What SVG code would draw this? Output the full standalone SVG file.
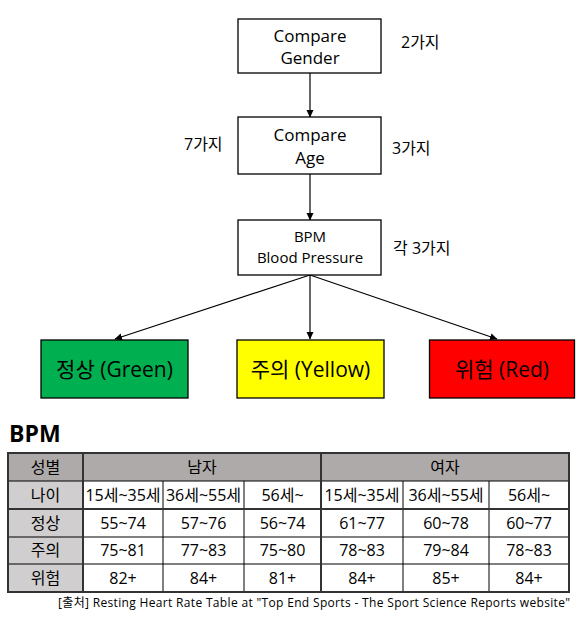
<svg xmlns="http://www.w3.org/2000/svg" width="588" height="623" viewBox="0 0 588 623">
<defs>
<marker id="ah" markerWidth="8" markerHeight="8" refX="7" refY="4" orient="auto" markerUnits="userSpaceOnUse">
<path d="M0,0.5 L7.5,4 L0,7.5 Z" fill="#000"/>
</marker>
<style>
text{font-family:"Open Sans","Noto Sans CJK KR",sans-serif;fill:#000}
.box{fill:#fff;stroke:#000;stroke-width:1.3}
.cbox{stroke:#000;stroke-width:1.3}
.t18{font-size:17px;text-anchor:middle}
.t16{font-size:16px}
.bpm{font-size:15px;text-anchor:middle}
.big{font-size:21px;text-anchor:middle}
.cell{font-size:16px;text-anchor:middle}
.con{stroke:#000;stroke-width:1.2;fill:none;marker-end:url(#ah)}
.g1{stroke:#000;stroke-width:1}
.g2{stroke:#333;stroke-width:2}
</style>
</defs>
<rect width="588" height="623" fill="#fff"/>

<g id="connectors">
<line class="con" x1="310" y1="73" x2="310" y2="117"/>
<line class="con" x1="310" y1="174" x2="310" y2="220"/>
<line class="con" x1="310" y1="275" x2="115" y2="339"/>
<line class="con" x1="310" y1="275" x2="310" y2="339"/>
<line class="con" x1="310" y1="275" x2="497" y2="339"/>
</g>

<g id="gender">
<rect class="box" x="238" y="19" width="143" height="54"/>
<text class="t18" x="310" y="42">Compare</text>
<text class="t18" x="310" y="64">Gender</text>
</g>
<text id="lbl-2" class="t16" x="401" y="48">2가지</text>

<g id="age">
<rect class="box" x="238" y="117" width="143" height="57"/>
<text class="t18" x="310" y="141">Compare</text>
<text class="t18" x="310" y="164">Age</text>
</g>
<text id="lbl-7" class="t16" x="184" y="150">7가지</text>
<text id="lbl-3" class="t16" x="392" y="154">3가지</text>

<g id="bpmbp">
<rect class="box" x="238" y="220" width="143" height="55"/>
<text class="bpm" x="310" y="242">BPM</text>
<text class="bpm" x="310" y="263">Blood Pressure</text>
</g>
<text id="lbl-each" class="t16" x="393" y="254">각 3가지</text>

<g id="green">
<rect class="cbox" x="41" y="340" width="147" height="58" fill="#00b050"/>
<text class="big" x="114.5" y="377">정상 (Green)</text>
</g>
<g id="yellow">
<rect class="cbox" x="237" y="340" width="147" height="58" fill="#ffff00"/>
<text class="big" x="310.5" y="377">주의 (Yellow)</text>
</g>
<g id="red">
<rect class="cbox" x="429.5" y="340" width="145" height="58" fill="#ff0000"/>
<text class="big" x="502" y="377">위험 (Red)</text>
</g>

<text id="title" x="9" y="442" style="font-size:23px;font-weight:bold">BPM</text>

<g id="table">
<rect x="8" y="453" width="561" height="28" fill="#aeaaaa"/>
<rect x="8" y="481" width="75" height="111" fill="#d0cece"/>
<g class="g1">
<line x1="8" y1="481" x2="569" y2="481"/>
<line x1="8" y1="537" x2="569" y2="537"/>
<line x1="8" y1="564" x2="569" y2="564"/>
<line x1="163" y1="481" x2="163" y2="592"/>
<line x1="244" y1="481" x2="244" y2="592"/>
<line x1="403" y1="481" x2="403" y2="592"/>
<line x1="489" y1="481" x2="489" y2="592"/>
</g>
<g class="g2">
<line x1="8" y1="509" x2="569" y2="509"/>
<line x1="83" y1="453" x2="83" y2="592"/>
<line x1="321" y1="453" x2="321" y2="592"/>
<rect x="8" y="453" width="561" height="139" fill="none"/>
</g>
<g class="cell">
<text x="45.5" y="473">성별</text>
<text x="202" y="473">남자</text>
<text x="445" y="473">여자</text>
<text x="45.5" y="501">나이</text>
<text x="123" y="501">15세~35세</text>
<text x="203.5" y="501">36세~55세</text>
<text x="282.5" y="501">56세~</text>
<text x="362" y="501">15세~35세</text>
<text x="446" y="501">36세~55세</text>
<text x="529" y="501">56세~</text>
<text x="45.5" y="529">정상</text>
<text x="123" y="529">55~74</text>
<text x="203.5" y="529">57~76</text>
<text x="282.5" y="529">56~74</text>
<text x="362" y="529">61~77</text>
<text x="446" y="529">60~78</text>
<text x="529" y="529">60~77</text>
<text x="45.5" y="556">주의</text>
<text x="123" y="556">75~81</text>
<text x="203.5" y="556">77~83</text>
<text x="282.5" y="556">75~80</text>
<text x="362" y="556">78~83</text>
<text x="446" y="556">79~84</text>
<text x="529" y="556">78~83</text>
<text x="45.5" y="584">위험</text>
<text x="123" y="584">82+</text>
<text x="203.5" y="584">84+</text>
<text x="282.5" y="584">81+</text>
<text x="362" y="584">84+</text>
<text x="446" y="584">85+</text>
<text x="529" y="584">84+</text>
</g>
</g>
<text id="source" x="58" y="607" textLength="512" lengthAdjust="spacing" style="font-size:12px">[출처]  Resting Heart Rate Table at "Top End Sports - The Sport Science Reports website"</text>
</svg>
